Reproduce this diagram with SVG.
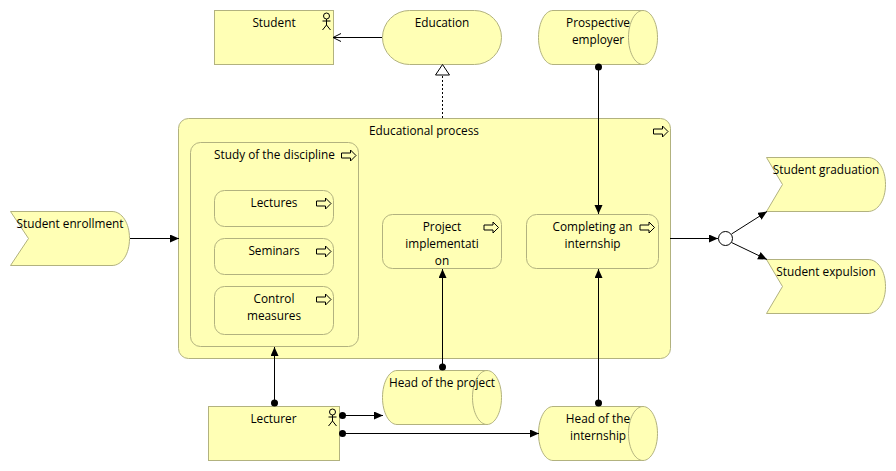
<svg xmlns="http://www.w3.org/2000/svg" width="896" height="471" viewBox="0 0 896 471">
<style>
.n{fill:#ffffb5;stroke:#b2b27f;stroke-width:1}
text{font-family:"Open Sans","Noto Sans",sans-serif;font-size:11.8px;fill:#000;text-anchor:middle}
.c{fill:none;stroke:#000;stroke-width:1}
.ic{fill:none;stroke:#000;stroke-width:1}
.ar{fill:#ffffb5;stroke:#000;stroke-width:1}
</style>
<defs>
<marker id="tri" markerUnits="userSpaceOnUse" markerWidth="10" markerHeight="10" refX="9" refY="4" orient="auto"><path d="M0,0L9,4L0,8Z" fill="#000"/></marker>
<marker id="open" markerUnits="userSpaceOnUse" markerWidth="10" markerHeight="10" refX="8" refY="4" orient="auto"><path d="M0,0L8,4L0,8" fill="none" stroke="#000"/></marker>
<g id="proc"><path class="ar" d="M0,-2.500H9V-5.500L14.500,0L9,5.500V2.500H0Z"/></g>
<g id="actor"><g class="ic"><circle cx="0" cy="-5" r="3"/><path d="M0,-2V4M-4,0H4M-4,9L0,4L4,9"/></g></g>
</defs>
<g id="student"><rect class="n" x="214.500" y="10.500" width="119" height="54"/><text x="274" y="27">Student</text><use href="#actor" transform="translate(326.500,21)"/></g>
<g id="education"><rect class="n" x="382.500" y="10.500" width="119" height="54" rx="27" ry="27"/><text x="442" y="27">Education</text></g>
<g id="prospective"><path class="n" d="M553,10.500H643C651,10.500 657.500,22.500 657.500,37.500C657.500,52.500 651,64.500 643,64.500H553C545,64.500 538.500,52.500 538.500,37.500C538.500,22.500 545,10.500 553,10.500Z"/><path class="n" d="M643,10.500C635,10.500 628.500,22.500 628.500,37.500C628.500,52.500 635,64.500 643,64.500" fill="none"/><text x="598" y="27">Prospective</text><text x="598" y="44">employer</text></g>
<g id="educational-process"><rect class="n" x="178.500" y="118.500" width="492" height="240" rx="10" ry="10"/><text x="424" y="135">Educational process</text><use href="#proc" transform="translate(653.500,131.500)"/></g>
<g id="study"><rect class="n" x="190.500" y="142.500" width="168" height="204" rx="10" ry="10"/><text x="274.500" y="159">Study of the discipline</text><use href="#proc" transform="translate(341.500,155.500)"/></g>
<g id="lectures"><rect class="n" x="214.500" y="190.500" width="119" height="36" rx="10" ry="10"/><text x="274" y="207">Lectures</text><use href="#proc" transform="translate(316.500,203.500)"/></g>
<g id="seminars"><rect class="n" x="214.500" y="238.500" width="119" height="36" rx="10" ry="10"/><text x="274" y="255">Seminars</text><use href="#proc" transform="translate(316.500,251.500)"/></g>
<g id="control"><rect class="n" x="214.500" y="286.500" width="119" height="48" rx="10" ry="10"/><text x="274" y="303">Control</text><text x="274" y="320">measures</text><use href="#proc" transform="translate(316.500,299.500)"/></g>
<g id="project"><rect class="n" x="382.500" y="214.500" width="119" height="54" rx="10" ry="10"/><text x="442" y="231">Project</text><text x="442" y="248">implementati</text><text x="442" y="265">on</text><use href="#proc" transform="translate(484,227.500)"/></g>
<g id="internship"><rect class="n" x="526.500" y="214.500" width="132" height="54" rx="10" ry="10"/><text x="592.500" y="231">Completing an</text><text x="592.500" y="248">internship</text><use href="#proc" transform="translate(640,227.500)"/></g>
<g id="enrollment"><path class="n" d="M10.500,211.500H112C122,211.500 129.500,223 129.500,238.500C129.500,254 122,265.500 112,265.500H10.500L28.500,238.500Z"/><text x="70" y="228">Student enrollment</text></g>
<g id="junction"><circle cx="725.500" cy="238.500" r="7" fill="#fff" stroke="#000"/></g>
<g id="graduation"><path class="n" d="M766.500,157.500H868C878,157.500 885.500,169 885.500,184.500C885.500,200 878,211.500 868,211.500H766.500L782.500,184.500Z"/><text x="826" y="174">Student graduation</text></g>
<g id="expulsion"><path class="n" d="M766.500,259.500H868C878,259.500 885.500,271 885.500,286.500C885.500,302 878,313.500 868,313.500H766.500L782.500,286.500Z"/><text x="826" y="276">Student expulsion</text></g>
<g id="lecturer"><rect class="n" x="208.500" y="406.500" width="131" height="54"/><text x="273.500" y="423">Lecturer</text><use href="#actor" transform="translate(332.500,417)"/></g>
<g id="head-project"><path class="n" d="M397,370.500H487C495,370.500 501.500,382.500 501.500,397.500C501.500,412.500 495,424.500 487,424.500H397C389,424.500 382.500,412.500 382.500,397.500C382.500,382.500 389,370.500 397,370.500Z"/><path class="n" d="M487,370.500C479,370.500 472.500,382.500 472.500,397.500C472.500,412.500 479,424.500 487,424.500" fill="none"/><text x="442" y="387">Head of the project</text></g>
<g id="head-internship"><path class="n" d="M553,406.500H643C651,406.500 657.500,418.500 657.500,433.500C657.500,448.500 651,460.500 643,460.500H553C545,460.500 538.500,448.500 538.500,433.500C538.500,418.500 545,406.500 553,406.500Z"/><path class="n" d="M643,406.500C635,406.500 628.500,418.500 628.500,433.500C628.500,448.500 635,460.500 643,460.500" fill="none"/><text x="598" y="423">Head of the</text><text x="598" y="440">internship</text></g>
<g id="connectors">
<path class="c" d="M382,37.500H333" marker-end="url(#open)"/>
<path class="c" d="M442.500,118V76" stroke-dasharray="2 2"/>
<path d="M435.500,75H449.500L442.500,64.500Z" fill="#fff" stroke="#000"/>
<path class="c" d="M598.500,67V214" marker-end="url(#tri)"/>
<circle cx="598.500" cy="67" r="3.500"/>
<path class="c" d="M130,238.500H179" marker-end="url(#tri)"/>
<path class="c" d="M670,238.500H718" marker-end="url(#tri)"/>
<path class="c" d="M731.500,234L767,211.500" marker-end="url(#tri)"/>
<path class="c" d="M731.500,242.500L767,259.500" marker-end="url(#tri)"/>
<path class="c" d="M274.500,403V347" marker-end="url(#tri)"/>
<circle cx="274.500" cy="403" r="3.500"/>
<path class="c" d="M442.500,367V269" marker-end="url(#tri)"/>
<circle cx="442.500" cy="367" r="3.500"/>
<path class="c" d="M598.500,403V269" marker-end="url(#tri)"/>
<circle cx="598.500" cy="403" r="3.500"/>
<path class="c" d="M342.500,415.500H383" marker-end="url(#tri)"/>
<circle cx="342.500" cy="415.500" r="3.500"/>
<path class="c" d="M342.500,433.500H539" marker-end="url(#tri)"/>
<circle cx="342.500" cy="433.500" r="3.500"/>
</g>
</svg>
